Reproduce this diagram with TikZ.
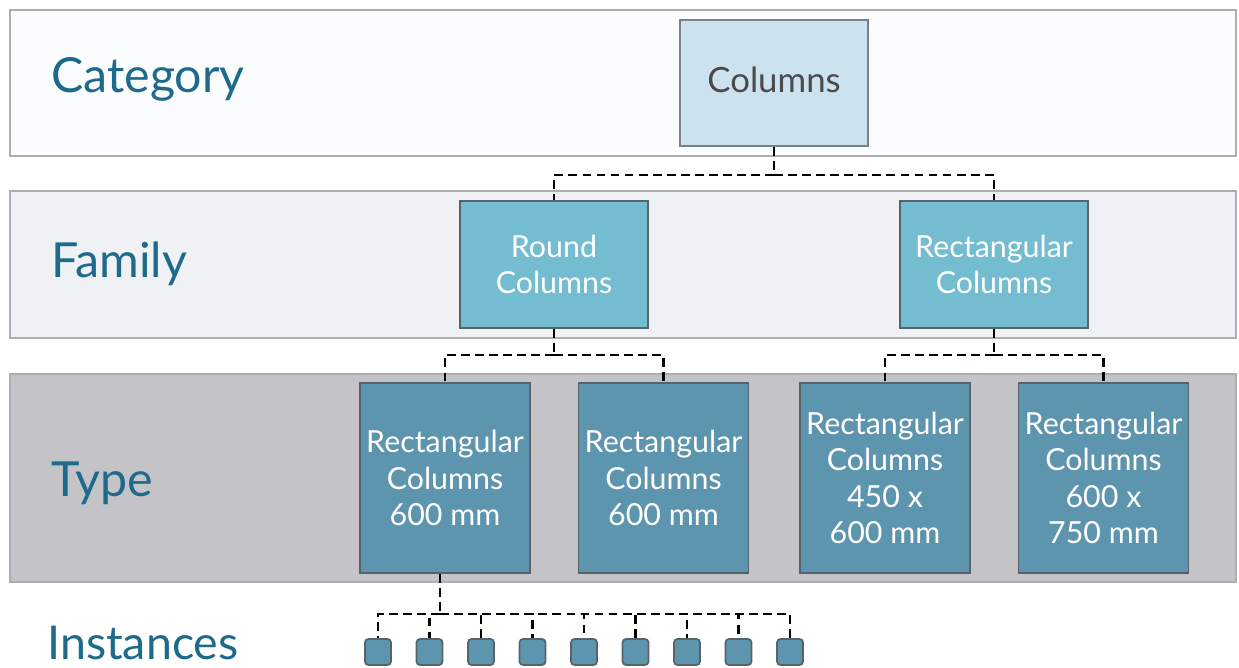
\documentclass[tikz,border=0pt]{standalone}
\usepackage{fontspec}
\setmainfont{Lato}
\definecolor{bandtop}{HTML}{FAFCFD}
\definecolor{bandmid}{HTML}{F0F1F5}
\definecolor{bandlow}{HTML}{C3C3C8}
\definecolor{bandline}{HTML}{AEAEB2}
\definecolor{catfill}{HTML}{CCE2EF}
\definecolor{famfill}{HTML}{74BDD1}
\definecolor{typefill}{HTML}{5E95AE}
\definecolor{boxline}{HTML}{56636A}
\definecolor{lblblue}{HTML}{1E6A8C}
\definecolor{cattext}{HTML}{4A4A4A}
\usetikzlibrary{calc}

\begin{document}
\begin{tikzpicture}[x=0.02cm, y=-0.02cm,
    band/.style={draw=bandline, line width=1pt},
    lbl/.style={anchor=base west, inner sep=0pt, text=lblblue,
                font=\fontsize{27.5}{30}\selectfont},
    catbox/.style={draw=boxline!80, line width=1pt, fill=catfill, text=cattext,
                   minimum width=3.76cm, minimum height=2.52cm,
                   font=\fontsize{19.8}{24}\selectfont},
    fambox/.style={draw=boxline, line width=1pt, fill=famfill, text=white,
                   minimum width=3.76cm, minimum height=2.54cm, align=center,
                   font=\fontsize{17.3}{20.7}\selectfont},
    typebox/.style={draw=boxline, line width=1pt, fill=typefill, text=white,
                    minimum width=3.40cm, minimum height=3.80cm, align=center,
                    font=\fontsize{17.3}{20.7}\selectfont},
    instbox/.style={draw=boxline, line width=1pt, fill=typefill,
                    rounded corners=2pt, minimum size=0.52cm, inner sep=0pt},
    link/.style={black, line width=1.5pt, dash pattern=on 5pt off 3pt}
  ]
    \useasboundingbox (0,0) rectangle (1239,668);

    % Bands
    \draw[band, fill=bandtop] (10,10)  rectangle (1236,156);
    \draw[band, fill=bandmid] (10,191) rectangle (1236,338);
    \draw[band, fill=bandlow] (10,374) rectangle (1236,582);

    % Row labels
    \node[lbl] (lcat)  at (51,93)  {Category};
    \node[lbl] (lfam)  at (51,278) {Family};
    \node[lbl] (ltype) at (51,496) {Type};
    \node[lbl, font=\fontsize{26.5}{30}\selectfont] (linst) at (47,659) {Instances};

    % Category
    \node[catbox] (cols) at (774,83) {\raisebox{3.4pt}{Columns}};

    % Families
    \node[fambox] (round) at (554,264.5) {Round\\Columns};
    \node[fambox] (rect)  at (994,264.5) {Rectangular\\Columns};

    % Types
    \node[typebox] (t1) at (445,478)  {Rectangular\\Columns\\600 mm};
    \node[typebox] (t2) at (663.5,478) {Rectangular\\Columns\\600 mm};
    \node[typebox] (t3) at (885,478)  {Rectangular\\Columns\\450 x\\600 mm};
    \node[typebox] (t4) at (1103.5,478) {Rectangular\\Columns\\600 x\\750 mm};

    % Instances
    \foreach \i in {1,...,9}
      \node[instbox] (inst\i) at ({378+(\i-1)*51.5},652) {};

    % Links
    \coordinate (j1) at (774,175);
    \draw[link] (cols.south) -- (j1);
    \draw[link] (j1) -| (round.north);
    \draw[link] (j1) -| (rect.north);

    \coordinate (j2) at (554,355);
    \draw[link] (round.south) -- (j2);
    \draw[link] (j2) -| (t1.north);
    \draw[link] (j2) -| (t2.north);

    \coordinate (j3) at (994,355);
    \draw[link] (rect.south) -- (j3);
    \draw[link] (j3) -| (t3.north);
    \draw[link] (j3) -| (t4.north);

    \coordinate (j4) at (440,614);
    \draw[link] (t1.south -| j4) -- (j4);
    \foreach \i in {1,...,9}
      \draw[link] (j4) -| (inst\i.north);
  \end{tikzpicture}
\end{document}
